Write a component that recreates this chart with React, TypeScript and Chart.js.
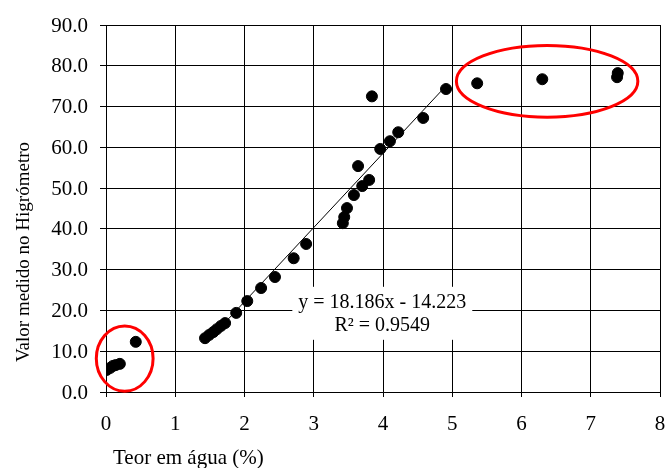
import React, { useEffect, useRef } from "react";
import { Chart, registerables } from "chart.js";

Chart.register(...registerables);

// Measured points: water content (%) vs hygrometer reading
const xValues = [0.01, 0.06, 0.1, 0.14, 0.2, 0.43, 1.43, 1.49, 1.55, 1.6, 1.66, 1.72, 1.88, 2.04, 2.24, 2.44, 2.71, 2.89, 3.42, 3.44, 3.48, 3.58, 3.64, 3.7, 3.8, 3.84, 3.96, 4.1, 4.22, 4.58, 4.91, 5.36, 6.3, 7.38, 7.39];
const yValues = [5.4, 5.9, 6.4, 6.6, 6.9, 12.3, 13.2, 14.0, 14.7, 15.4, 16.2, 16.9, 19.4, 22.3, 25.5, 28.2, 32.8, 36.3, 41.4, 42.9, 45.1, 48.3, 55.4, 50.5, 52.0, 72.5, 59.6, 61.5, 63.7, 67.2, 74.3, 75.7, 76.7, 77.2, 78.2];

// Linear trendline (fitted range)
const trendSlope = 18.186;
const trendIntercept = -14.223;
const trendRange = [1.43, 4.91];
const trendLabel = ["y = 18.186x - 14.223", "R² = 0.9549"];
const trendLabelAnchor = { x: 3.99, y: 19.3 };

// Highlight ellipses (data units): centre x, centre y, radius x, radius y
const ellipseCx = [0.27, 6.37];
const ellipseCy = [8.2, 76.2];
const ellipseRx = [0.41, 1.31];
const ellipseRy = [8.0, 8.8];

const xTitle = "Teor em água (%)";
const yTitle = "Valor medido no Higrómetro";

const FONT = "Liberation Serif, Times New Roman, serif";

export default function App() {
  const ref = useRef<HTMLCanvasElement | null>(null);

  useEffect(() => {
    if (!ref.current) return;
    const points = xValues.map((x, i) => ({ x, y: yValues[i] }));
    const trend = trendRange.map((x) => ({ x, y: trendSlope * x + trendIntercept }));

    const overlay = {
      id: "overlay",
      beforeDatasetsDraw(chart: any) {
        const { ctx, scales } = chart;
        const xs = scales.x, ys = scales.y;
        ctx.save();
        ctx.font = `20px ${FONT}`;
        const w = Math.max(...trendLabel.map((t) => ctx.measureText(t).width));
        const cx = xs.getPixelForValue(trendLabelAnchor.x);
        const cy = ys.getPixelForValue(trendLabelAnchor.y);
        const lh = 23;
        const bw = w + 12;
        const bh = lh * trendLabel.length + 7;
        ctx.fillStyle = "#ffffff";
        ctx.fillRect(cx - bw / 2, cy - bh / 2, bw, bh);
        ctx.fillStyle = "#000";
        ctx.textAlign = "center";
        ctx.textBaseline = "middle";
        trendLabel.forEach((t, i) => {
          ctx.fillText(t, cx, cy + 1 + (i - (trendLabel.length - 1) / 2) * lh);
        });
        ctx.restore();
      },
      afterDatasetsDraw(chart: any) {
        const { ctx, scales } = chart;
        const xs = scales.x, ys = scales.y;
        ctx.save();
        ctx.strokeStyle = "#ff0000";
        ctx.lineWidth = 3;
        ellipseCx.forEach((ex, i) => {
          const px = xs.getPixelForValue(ex);
          const py = ys.getPixelForValue(ellipseCy[i]);
          const rx = Math.abs(xs.getPixelForValue(ex + ellipseRx[i]) - px);
          const ry = Math.abs(ys.getPixelForValue(ellipseCy[i] + ellipseRy[i]) - py);
          ctx.beginPath();
          ctx.ellipse(px, py, rx, ry, 0, 0, Math.PI * 2);
          ctx.stroke();
        });
        ctx.restore();
      },
      afterDraw(chart: any) {
        const { ctx } = chart;
        ctx.save();
        ctx.fillStyle = "#000";
        ctx.textBaseline = "middle";
        ctx.textAlign = "left";
        ctx.font = `21px ${FONT}`;
        ctx.fillText(xTitle, 113, 458);
        ctx.font = `19px ${FONT}`;
        ctx.translate(24, 252);
        ctx.rotate(-Math.PI / 2);
        ctx.textAlign = "center";
        ctx.fillText(yTitle, 0, 0);
        ctx.restore();
      },
    };

    const zeroPad = (s: any) => {
      s.paddingLeft = 0;
      s.paddingRight = 0;
      s.paddingTop = 0;
      s.paddingBottom = 0;
    };

    const chart = new Chart(ref.current, {
      type: "scatter",
      data: {
        datasets: [
          {
            data: points,
            backgroundColor: "#000",
            borderColor: "#000",
            pointRadius: 5.5,
            pointHoverRadius: 5.5,
            showLine: false,
            order: 1,
          },
          {
            data: trend,
            showLine: true,
            borderColor: "#000",
            borderWidth: 1,
            pointRadius: 0,
            fill: false,
            order: 2,
          },
        ],
      },
      options: {
        animation: false,
        responsive: true,
        maintainAspectRatio: false,
        layout: { padding: { top: 25, right: 8, left: 0, bottom: 0 } },
        plugins: { legend: { display: false }, tooltip: { enabled: false } },
        scales: {
          x: {
            type: "linear",
            min: 0,
            max: 8,
            ticks: { stepSize: 1, color: "#000", font: { family: FONT, size: 21 }, padding: 15 },
            grid: { color: "#000", lineWidth: 1, tickLength: 5 },
            border: { color: "#000", width: 1 },
            afterFit: (s: any) => { s.height = 76; zeroPad(s); },
          },
          y: {
            type: "linear",
            min: 0,
            max: 90,
            ticks: {
              stepSize: 10,
              color: "#000",
              font: { family: FONT, size: 21 },
              padding: 12,
              labelOffset: 1,
              callback: (v: any) => Number(v).toFixed(1),
            },
            grid: { color: "#000", lineWidth: 1, tickLength: 6 },
            border: { color: "#000", width: 1 },
            afterFit: (s: any) => { s.width = 106; zeroPad(s); },
          },
        },
      },
      plugins: [overlay],
    });
    return () => chart.destroy();
  }, []);

  return (
    <div style={{ position: "absolute", left: 0, top: 0, width: 668, height: 468, background: "#fff" }}>
      <canvas ref={ref} />
    </div>
  );
}
